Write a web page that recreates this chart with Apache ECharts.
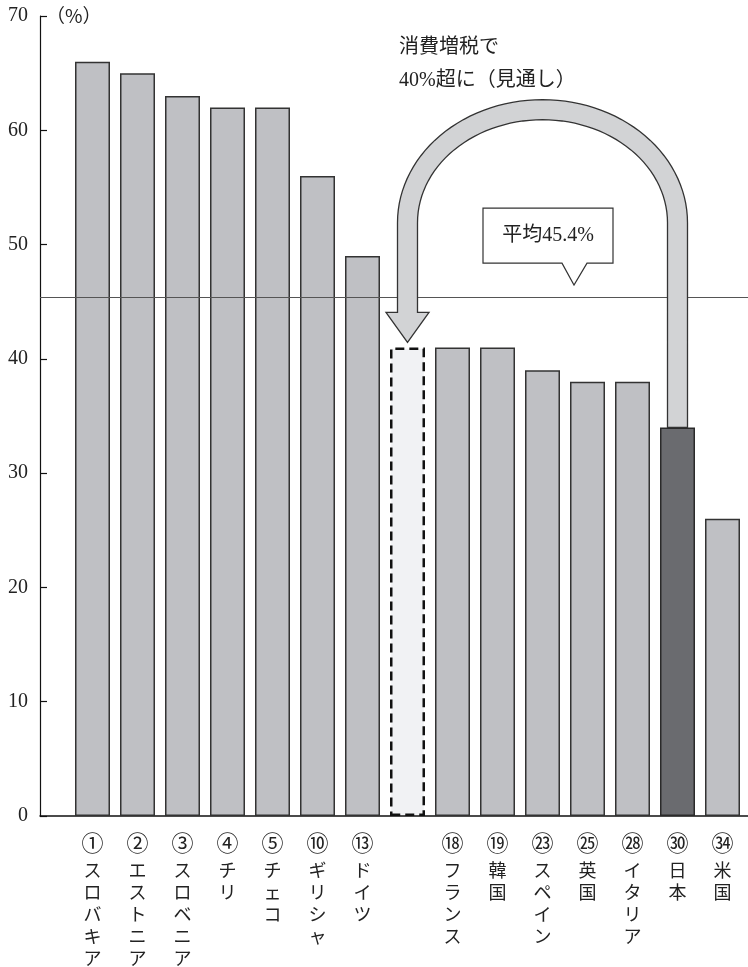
<!DOCTYPE html>
<html>
<head>
<meta charset="utf-8">
<script src="https://cdn.jsdelivr.net/npm/echarts@6/dist/echarts.min.js"></script>
<style>
  html, body { margin: 0; padding: 0; background: #fff; }
  #chart { width: 748px; height: 967px; }
</style>
</head>
<body>
<div id="chart"></div>
<script>
// OECD consumption-tax share comparison (rank, country, %)
const ranks = ['①', '②', '③', '④', '⑤', '⑩', '⑬', '', '⑱', '⑲', '㉓', '㉕', '㉘', '㉚', '㉞'];
const countries = ['スロバキア', 'エストニア', 'スロベニア', 'チリ', 'チェコ', 'ギリシャ', 'ドイツ', '', 'フランス', '韓国', 'スペイン', '英国', 'イタリア', '日本', '米国'];
const values = [66, 65, 63, 62, 62, 56, 49, 41, 41, 41, 39, 38, 38, 34, 26];
const averageValue = 45.4;
const projectedIndex = 7;   // Japan after the tax hike (outlook)
const japanIndex = 13;
const yMin = 0, yMax = 70, yStep = 10;

const SERIF = "'Liberation Serif', 'Noto Sans CJK JP'";
const JP = "'Noto Sans CJK JP'";

const chart = echarts.init(document.getElementById('chart'), null, { renderer: 'canvas' });

const barData = values.map((v, i) => {
  if (i === projectedIndex) {
    return { value: v, itemStyle: { color: '#f1f2f4', borderColor: '#111', borderWidth: 2.5, borderType: [9, 5] } };
  }
  if (i === japanIndex) {
    return { value: v, itemStyle: { color: '#6a6b6f', borderColor: '#2a2a2a', borderWidth: 1.5 } };
  }
  return { value: v };
});

const catKeys = countries.map((c, i) => c || ('slot' + i));

chart.setOption({
  animation: false,
  backgroundColor: '#fff',
  grid: [
    { left: 40, right: 0, top: 16, bottom: 151 },
    { left: 70, right: 3, top: 16, bottom: 151 }
  ],
  xAxis: [
    {
      gridIndex: 0, type: 'value', min: 0, max: 1,
      axisLine: { show: true, lineStyle: { color: '#111', width: 1.5 } },
      axisTick: { show: false }, axisLabel: { show: false }, splitLine: { show: false }
    },
    {
      gridIndex: 1, type: 'category', data: catKeys,
      axisLine: { show: false }, axisTick: { show: false },
      axisLabel: {
        interval: 0, margin: 11,
        formatter: (val, idx) => {
          if (!ranks[idx]) return '';
          const chars = Array.from(countries[idx]).map(ch => '{k|' + ch + '}');
          return '{n|' + ranks[idx] + '}\n' + chars.join('\n');
        },
        rich: {
          n: { fontFamily: JP, fontSize: 22, lineHeight: 32, color: '#222' },
          k: { fontFamily: JP, fontSize: 18, lineHeight: 22, color: '#222' }
        }
      }
    }
  ],
  yAxis: [
    {
      gridIndex: 0, type: 'value', min: yMin, max: yMax, interval: yStep,
      name: '（%）', nameLocation: 'end', nameGap: 0,
      nameTextStyle: {
        rich: {},
        fontFamily: JP, fontSize: 19, color: '#222', align: 'left', verticalAlign: 'middle', padding: [0, 0, 0, 6]
      },
      axisLine: { show: true, lineStyle: { color: '#111', width: 1.2 } },
      axisTick: { show: true, inside: true, length: 7, lineStyle: { color: '#111', width: 1.2 } },
      axisLabel: { fontFamily: SERIF, fontSize: 20, color: '#222', margin: 12 },
      splitLine: { show: false }
    },
    {
      gridIndex: 1, type: 'value', min: yMin, max: yMax, interval: yStep, show: false
    }
  ],
  series: [
    {
      type: 'bar', xAxisIndex: 1, yAxisIndex: 1,
      barWidth: 35,
      data: barData,
      itemStyle: { color: '#bfc0c4', borderColor: '#333', borderWidth: 1.5 },
      z: 2
    },
    {
      type: 'line', xAxisIndex: 0, yAxisIndex: 0, data: [], z: 10,
      markLine: {
        silent: true, symbol: 'none', label: { show: false },
        lineStyle: { color: '#555', width: 1, type: 'solid' },
        data: [{ yAxis: averageValue }]
      }
    }
  ]
});

// Annotation: U-shaped arrow from Japan's bar to its projected bar, plus average callout
function drawAnnotations() {
  const japanTop = chart.convertToPixel({ seriesIndex: 0 }, [japanIndex, values[japanIndex]]);
  const projTop = chart.convertToPixel({ seriesIndex: 0 }, [projectedIndex, values[projectedIndex]]);
  const avgPt = chart.convertToPixel({ seriesIndex: 0 }, [0, averageValue]);
  const archTop = chart.convertToPixel({ seriesIndex: 0 }, [0, 61.8])[1];

  const xl = projTop[0], xr = japanTop[0];
  const hw = 10;          // half shaft width
  const headHalf = 21.5;  // half arrowhead width
  const headLen = 30;
  const tipY = projTop[1] - 5;
  const headBase = tipY - headLen;
  const cx = (xl + xr) / 2;
  const a = (xr - xl) / 2;   // horizontal radius of arch centre line
  const b = 113;             // vertical radius of arch centre line
  const cy = archTop + b;

  const pts = [];
  pts.push([xr + hw, japanTop[1]]);
  pts.push([xr + hw, cy]);
  const N = 60;
  for (let i = 0; i <= N; i++) {
    const t = Math.PI * i / N;
    pts.push([cx + (a + hw) * Math.cos(t), cy - (b + hw) * Math.sin(t)]);
  }
  pts.push([xl - hw, headBase]);
  pts.push([xl - headHalf, headBase]);
  pts.push([xl, tipY]);
  pts.push([xl + headHalf, headBase]);
  pts.push([xl + hw, headBase]);
  for (let i = N; i >= 0; i--) {
    const t = Math.PI * i / N;
    pts.push([cx + (a - hw) * Math.cos(t), cy - (b - hw) * Math.sin(t)]);
  }
  pts.push([xr - hw, japanTop[1]]);

  // callout box above the average line
  const tip = [574, avgPt[1] - 12];
  const boxBottom = tip[1] - 22;
  const boxTop = boxBottom - 55;
  const boxL = 483, boxR = 613;
  const callout = [
    [boxL, boxTop], [boxR, boxTop], [boxR, boxBottom],
    [587, boxBottom], tip, [562, boxBottom], [boxL, boxBottom]
  ];

  chart.setOption({
    graphic: [
      {
        type: 'polygon', z: 5,
        shape: { points: pts },
        style: { fill: '#d2d3d5', stroke: '#333', lineWidth: 1.3 }
      },
      {
        type: 'polygon', z: 5,
        shape: { points: callout },
        style: { fill: '#fff', stroke: '#333', lineWidth: 1.2 }
      },
      {
        type: 'text', z: 6,
        x: (boxL + boxR) / 2, y: (boxTop + boxBottom) / 2,
        style: {
          text: '平均' + averageValue + '%',
          fontFamily: SERIF, fontSize: 20, fill: '#222',
          textAlign: 'center', textVerticalAlign: 'middle'
        }
      },
      {
        type: 'text', z: 6,
        x: 399, y: 31,
        style: {
          text: '消費増税で\n40%超に（見通し）',
          fontFamily: SERIF, fontSize: 20, lineHeight: 33, fill: '#222',
          textAlign: 'left', textVerticalAlign: 'top'
        }
      }
    ]
  });
}
drawAnnotations();
</script>
</body>
</html>
